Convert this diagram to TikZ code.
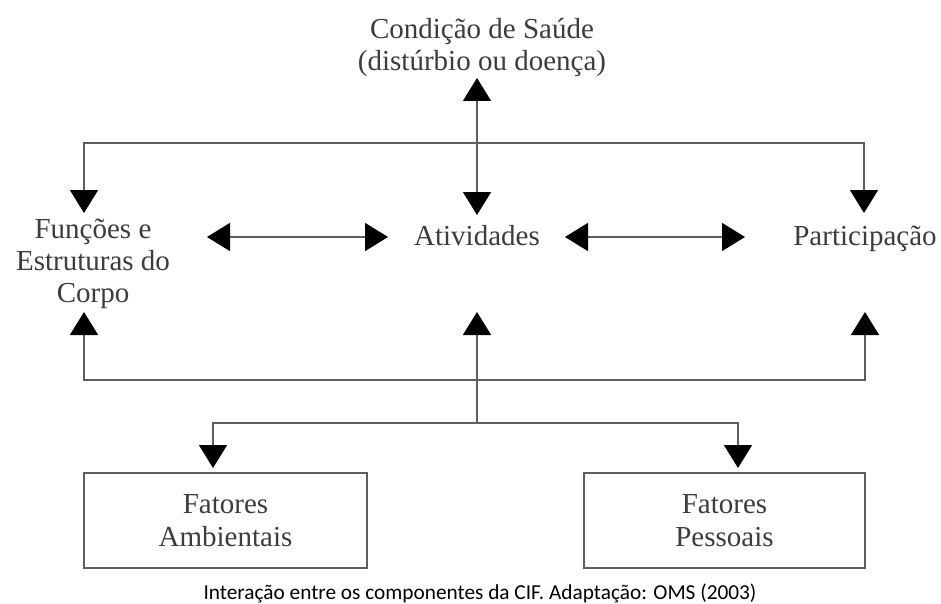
\documentclass[tikz,border=0pt]{standalone}
\usepackage{fontspec}
\setmainfont{Liberation Serif}
\newfontfamily\capfont{Carlito}
\usetikzlibrary{arrows.meta}
\definecolor{txtc}{HTML}{3C3C3C}
\definecolor{linec}{HTML}{5E5E5E}
\tikzset{
  lbl/.style={align=center, text=txtc, inner sep=0pt, font=\fontsize{29}{32}\selectfont},
  conn/.style={draw=linec, line width=1.5pt,
    arrows={-}, >={Triangle[length=23pt,width=28pt,color=black]}},
  fbox/.style={draw=linec, line width=1.6pt, align=center, text=txtc,
    font=\fontsize{29}{33}\selectfont, inner sep=0pt},
  captxt/.style={font=\capfont\fontsize{21.3}{25}\selectfont, text=black, inner sep=0pt}
}
\begin{document}
\begin{tikzpicture}[x=1pt,y=-1pt]
\useasboundingbox[fill=white] (0,0) rectangle (941,604);
% nodes
\node[lbl] (cond) at (482,48) {Condição de Saúde\\(distúrbio ou doença)};
\node[lbl] (func) at (93,264) {Funções e\\Estruturas do\\Corpo};
\node[lbl, anchor=base] (ativ) at (477,245) {Atividades};
\node[lbl, anchor=base] (part) at (865,245) {Participação};
\node[fbox, minimum width=283pt, minimum height=95pt] (amb) at (225.5,520.5) {Fatores\\Ambientais};
\node[fbox, minimum width=281pt, minimum height=95pt] (pes) at (724.5,520.5) {Fatores\\Pessoais};
\node[captxt] (cap) at (480,593) {Interação entre os componentes da CIF. Adaptação: OMS (2003)};
% coordinates for connector ends
\coordinate (cT) at (477,78);
\coordinate (aT) at (477,215);
\coordinate (fT) at (84,213);
\coordinate (pT) at (864,213);
\coordinate (jT) at (477,143);
\coordinate (fB) at (84,312);
\coordinate (aB) at (477,312);
\coordinate (pB) at (865,312);
\coordinate (jB) at (477,380);
\coordinate (jL) at (477,423);
\coordinate (ambT) at (213,468);
\coordinate (pesT) at (738,468);
\coordinate (fR) at (207,237);
\coordinate (aL) at (388,237);
\coordinate (aR) at (565,237);
\coordinate (pL) at (745,237);
% connectors
\draw[conn,<->] (cT) -- (aT);
\draw[conn,<->] (fT) |- (jT) -| (pT);
\draw[conn,<->] (fR) -- (aL);
\draw[conn,<->] (aR) -- (pL);
\draw[conn,<->] (fB) |- (jB) -| (pB);
\draw[conn,->] (jL) -- (aB);
\draw[conn,<->] (ambT) |- (jL) -| (pesT);
\end{tikzpicture}
\end{document}
